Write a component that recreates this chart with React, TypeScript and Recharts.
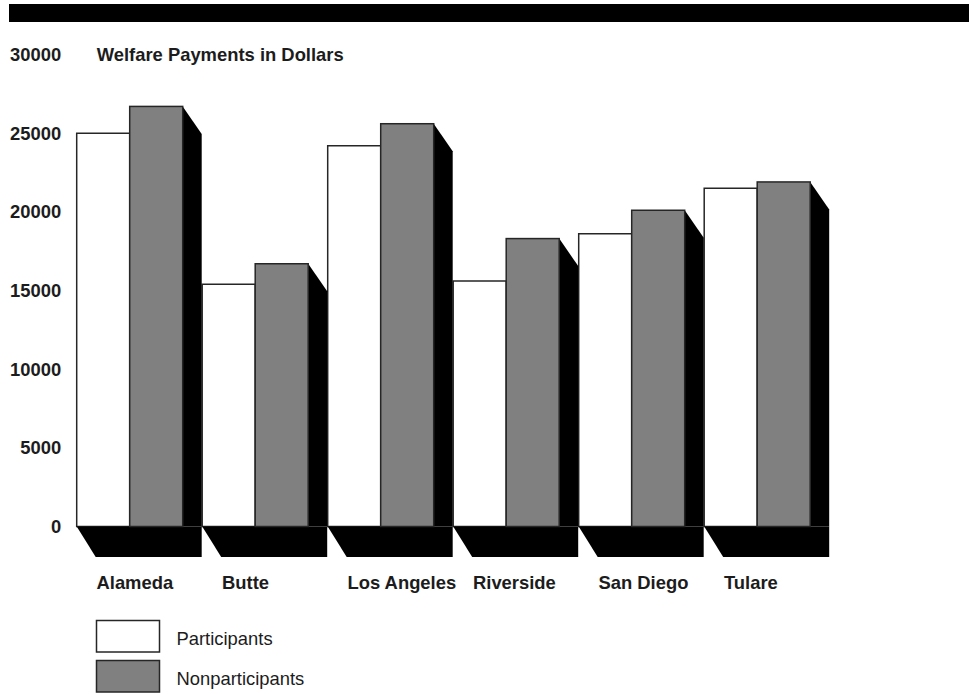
import { Bar, BarChart, XAxis, YAxis } from "recharts"

const counties = ["Alameda", "Butte", "Los Angeles", "Riverside", "San Diego", "Tulare"]
const participants = [25000, 15400, 24200, 15600, 18600, 21500]
const nonparticipants = [26700, 16700, 25600, 18300, 20100, 21900]
const yTicks = [0, 5000, 10000, 15000, 20000, 25000, 30000]
const seriesNames = ["Participants", "Nonparticipants"]
const seriesFills = ["#ffffff", "#808080"]
const chartTitle = "Welfare Payments in Dollars"

const FONT = '"Liberation Sans", Arial, Helvetica, sans-serif'
const TEXT = "#1c1c1c"
const EDGE = "#262626"

const data = counties.map((county, i) => ({
  county,
  participants: participants[i],
  nonparticipants: nonparticipants[i],
}))

// gray bar with the black side shadow and the floor slab under the pair
function ShadedBar(props: any) {
  const { x, y, width, height } = props
  const bottom = y + height
  const left = x - width
  const right = x + width
  return (
    <g>
      <polygon
        points={`${left},${bottom} ${right + 19},${bottom} ${right + 19},${bottom + 30.5} ${left + 19},${bottom + 30.5}`}
        fill="#000"
      />
      <polygon
        points={`${right},${y} ${right + 19},${y + 27.5} ${right + 19},${bottom} ${right},${bottom}`}
        fill="#000"
      />
      <rect x={x} y={y} width={width} height={height} fill={seriesFills[1]} stroke={EDGE} strokeWidth={1.5} />
    </g>
  )
}

function CountyTick(props: any) {
  const { x, payload } = props
  return (
    <text x={x - 33.5} y={589} fontFamily={FONT} fontSize={18.4} fontWeight="bold" fill={TEXT}>
      {payload.value}
    </text>
  )
}

export default function App() {
  return (
    <div style={{ position: "absolute", left: 0, top: 0, width: 969, height: 694, background: "#fff" }}>
      <BarChart
        width={969}
        height={694}
        data={data}
        margin={{ top: 54.5, right: 148.75, bottom: 107.5, left: 0 }}
        barCategoryGap={9.45}
        barGap={0}
      >
        <XAxis
          dataKey="county"
          axisLine={false}
          tickLine={false}
          height={60}
          interval={0}
          tick={<CountyTick />}
        />
        <YAxis
          domain={[0, 30000]}
          ticks={yTicks}
          interval={0}
          axisLine={false}
          tickLine={false}
          tickSize={0}
          tickMargin={6}
          width={67.25}
          tick={{ fontSize: 18.4, fontWeight: "bold", fill: TEXT, fontFamily: FONT }}
        />
        <Bar
          dataKey="participants"
          name={seriesNames[0]}
          fill={seriesFills[0]}
          stroke={EDGE}
          strokeWidth={1.5}
          isAnimationActive={false}
        />
        <Bar
          dataKey="nonparticipants"
          name={seriesNames[1]}
          fill={seriesFills[1]}
          shape={<ShadedBar />}
          isAnimationActive={false}
        />
      </BarChart>
      <svg
        width={969}
        height={694}
        style={{ position: "absolute", left: 0, top: 0, pointerEvents: "none" }}
      >
        <rect x={9} y={4} width={960} height={18} fill="#000" />
        <text x={96.7} y={61} fontFamily={FONT} fontSize={18.4} fontWeight="bold" fill={TEXT}>
          {chartTitle}
        </text>
        {seriesNames.map((name, i) => (
          <g key={name}>
            <rect x={96.5} y={620.5 + i * 40} width={63} height={31.5} fill={seriesFills[i]} stroke={EDGE} strokeWidth={1.5} />
            <text x={176.5} y={645 + i * 40} fontFamily={FONT} fontSize={18.4} fill={TEXT}>
              {name}
            </text>
          </g>
        ))}
      </svg>
    </div>
  )
}
